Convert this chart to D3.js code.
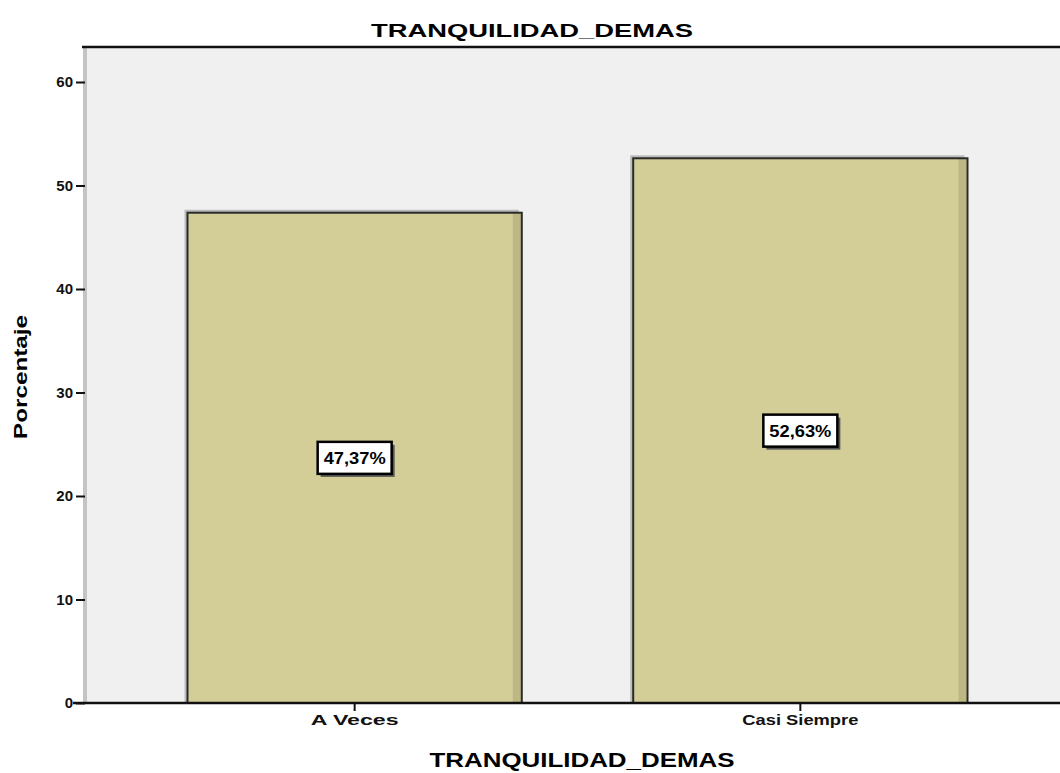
<!DOCTYPE html>
<html><head><meta charset="utf-8">
<script src="https://cdn.jsdelivr.net/npm/d3@7/dist/d3.min.js"></script>
<style>body{margin:0;background:#fff;}svg{display:block;font-family:"Liberation Sans",Arial,sans-serif;}</style>
</head><body><svg id="c" width="1060" height="773"></svg>
<script>
const categories = ["A Veces", "Casi Siempre"];
const percentages = [47.37, 52.63];
const valueLabels = ["47,37%", "52,63%"];
const yTicks = [0, 10, 20, 30, 40, 50, 60];
const chartTitle = "TRANQUILIDAD_DEMAS";
const xTitle = "TRANQUILIDAD_DEMAS";
const yTitle = "Porcentaje";

const svg = d3.select("#c");
const pLeft = 85, pRight = 1070, pTop = 47, pBottom = 703;
const y = d3.scaleLinear().domain([0, 60]).range([pBottom, 82]);
const x = d3.scaleBand().domain(categories).range([pLeft, pRight]).paddingInner(0.25).paddingOuter(0.23);

svg.append("rect").attr("x", pLeft).attr("y", pTop).attr("width", pRight - pLeft).attr("height", pBottom - pTop).attr("fill", "#f0f0f0");
svg.append("rect").attr("x", pLeft - 2).attr("y", pTop).attr("width", 4).attr("height", pBottom - pTop).attr("fill", "#c4c4c4");
svg.append("line").attr("x1", pLeft - 3).attr("x2", 1060).attr("y1", pTop).attr("y2", pTop).attr("stroke", "#111").attr("stroke-width", 2.5);

const g = svg.append("g");
categories.forEach((c, i) => {
  const bx = x(c), bw = x.bandwidth(), by = y(percentages[i]), bh = pBottom - by;
  g.append("rect").attr("x", bx - 3).attr("y", by - 3).attr("width", bw).attr("height", bh + 3).attr("fill", "#9a9a9a").attr("opacity", 0.6);
  g.append("rect").attr("x", bx).attr("y", by).attr("width", bw).attr("height", bh).attr("fill", "#d3ce97");
  g.append("rect").attr("x", bx + bw - 9).attr("y", by).attr("width", 8).attr("height", bh).attr("fill", "#bdb883");
  g.append("rect").attr("x", bx).attr("y", by).attr("width", bw).attr("height", bh).attr("fill", "none").attr("stroke", "#2a2a2a").attr("stroke-width", 2);
  const cx = bx + bw / 2, cy = by + bh / 2;
  const lw = 74, lh = 32;
  g.append("rect").attr("x", cx - lw / 2 + 3).attr("y", cy - lh / 2 + 3).attr("width", lw).attr("height", lh).attr("fill", "#555");
  g.append("rect").attr("x", cx - lw / 2).attr("y", cy - lh / 2).attr("width", lw).attr("height", lh).attr("fill", "#fff").attr("stroke", "#000").attr("stroke-width", 2.5);
  g.append("text").attr("x", cx).attr("y", cy + 6).attr("text-anchor", "middle").attr("font-size", 16).attr("font-weight", "bold").attr("fill", "#000")
    .attr("textLength", 62).attr("lengthAdjust", "spacingAndGlyphs").text(valueLabels[i]);
});

const ya = svg.append("g").attr("transform", `translate(${pLeft},0)`)
  .call(d3.axisLeft(y).tickValues(yTicks).tickSize(9).tickSizeOuter(0).tickFormat(d3.format("d")));
ya.select(".domain").remove();
ya.selectAll(".tick line").attr("stroke", "#111").attr("stroke-width", 2);
ya.selectAll(".tick text").attr("font-size", 15).attr("font-weight", "bold").attr("fill", "#111").attr("x", -12).attr("font-family", "Liberation Sans, Arial, sans-serif");

svg.append("line").attr("x1", pLeft - 12).attr("x2", 1060).attr("y1", pBottom).attr("y2", pBottom).attr("stroke", "#111").attr("stroke-width", 2.5);
const xa = svg.append("g").attr("transform", `translate(0,${pBottom})`)
  .call(d3.axisBottom(x).tickSize(8).tickSizeOuter(0));
xa.select(".domain").remove();
xa.selectAll(".tick line").attr("stroke", "#111").attr("stroke-width", 2);
xa.selectAll(".tick text").attr("font-size", 15).attr("font-weight", "bold").attr("fill", "#111").attr("dy", "0.75em").attr("font-family", "Liberation Sans, Arial, sans-serif")
  .attr("textLength", (d, i) => [88, 116][i]).attr("lengthAdjust", "spacingAndGlyphs");

svg.append("text").attr("x", 532).attr("y", 37).attr("text-anchor", "middle").attr("font-size", 18).attr("font-weight", "bold").attr("fill", "#000")
  .attr("textLength", 322).attr("lengthAdjust", "spacingAndGlyphs").text(chartTitle);
svg.append("text").attr("x", 582).attr("y", 767).attr("text-anchor", "middle").attr("font-size", 20).attr("font-weight", "bold").attr("fill", "#000")
  .attr("textLength", 305).attr("lengthAdjust", "spacingAndGlyphs").text(xTitle);
svg.append("text").attr("transform", "translate(27,377) rotate(-90)").attr("text-anchor", "middle").attr("font-size", 18).attr("font-weight", "bold").attr("fill", "#000")
  .attr("textLength", 124).attr("lengthAdjust", "spacingAndGlyphs").text(yTitle);
</script></body></html>
